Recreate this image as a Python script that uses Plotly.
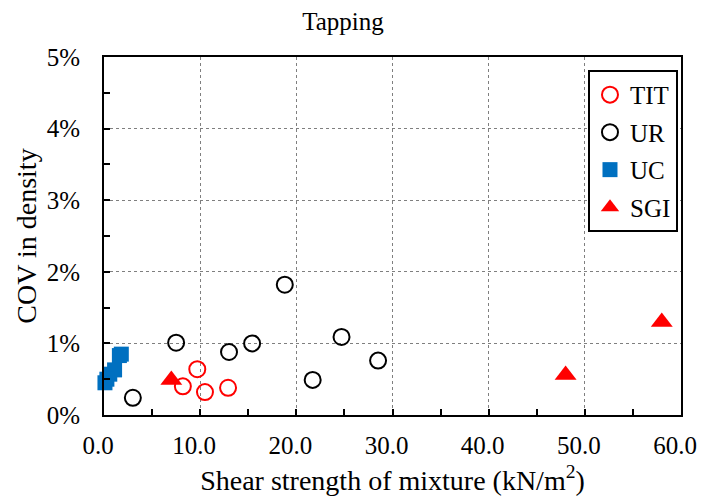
import plotly.graph_objects as go

# Data (x: shear strength kN/m2, y: COV in density, %)
tit_x = [8.2, 9.7, 10.5, 12.9]
tit_y = [0.40, 0.64, 0.32, 0.38]
ur_x = [3.0, 7.5, 13.0, 15.4, 18.8, 21.7, 24.7, 28.5]
ur_y = [0.24, 1.01, 0.88, 1.00, 1.82, 0.49, 1.09, 0.76]
uc_x = [1.8, 1.6, 1.1, 0.6, 0.3, 0.1]
uc_y = [0.85, 0.83, 0.63, 0.57, 0.50, 0.45]
sgi_x = [7.0, 48.0, 58.0]
sgi_y = [0.49, 0.56, 1.30]

x_ticks = [0, 10, 20, 30, 40, 50, 60]
x_tick_labels = ["0.0", "10.0", "20.0", "30.0", "40.0", "50.0", "60.0"]
y_ticks = [0, 1, 2, 3, 4, 5]
y_tick_labels = ["0%", "1%", "2%", "3%", "4%", "5%"]

FONT = "Liberation Serif, Times New Roman, serif"

fig = go.Figure()
fig.add_trace(go.Scatter(x=tit_x, y=tit_y, mode="markers", name="TIT", legendgroup="a",
                         marker=dict(symbol="circle-open", size=16, color="#FF0000",
                                     line=dict(width=2, color="#FF0000")),
                         cliponaxis=False))
fig.add_trace(go.Scatter(x=ur_x, y=ur_y, mode="markers", name="UR", legendgroup="b",
                         marker=dict(symbol="circle-open", size=16, color="#000000",
                                     line=dict(width=2, color="#000000")),
                         cliponaxis=False))
fig.add_trace(go.Scatter(x=uc_x, y=uc_y, mode="markers", name="UC", legendgroup="c",
                         marker=dict(symbol="square", size=15, color="#0070C0"),
                         cliponaxis=False))
fig.add_trace(go.Scatter(x=sgi_x, y=sgi_y, mode="markers", name="SGI", legendgroup="d",
                         marker=dict(symbol="triangle-up", size=19, color="#FF0000"),
                         cliponaxis=False))

H = 488
fig.update_layout(
    width=697, height=H,
    margin=dict(l=96, r=24, t=49, b=81, autoexpand=False),
    paper_bgcolor="white", plot_bgcolor="white",
    font=dict(family=FONT, color="black", size=25),
    title=dict(text="Tapping", x=0.4806, xanchor="center", y=1 - 13 / H, yanchor="middle",
               font=dict(family=FONT, size=25, color="black")),
    showlegend=True,
    legend=dict(x=0.8388, xanchor="left", y=0.964, yanchor="top",
                bordercolor="black", borderwidth=2, bgcolor="white",
                font=dict(family=FONT, size=25, color="black"),
                itemwidth=30, tracegroupgap=2),
)

fig.update_xaxes(
    range=[0, 60], tickvals=x_ticks, ticktext=x_tick_labels, automargin=False,
    showline=True, linecolor="black", linewidth=2, mirror=True,
    ticks="inside", ticklen=6, tickwidth=2, tickcolor="black",
    minor=dict(ticks="inside", ticklen=6, tickwidth=2, tickcolor="black", dtick=5,
               tick0=0, showgrid=False),
    showgrid=True, gridcolor="#7f7f7f", gridwidth=1, griddash="dot",
    zeroline=False, ticklabelstandoff=7, ticklabelshift=-6,
    tickfont=dict(family=FONT, size=25, color="black"),
    title=dict(text="Shear strength of mixture (kN/m<sup>2</sup>)", standoff=12,
               font=dict(family=FONT, size=28, color="black")),
)
fig.update_yaxes(
    range=[0, 5], tickvals=y_ticks, ticktext=y_tick_labels, automargin=False,
    showline=True, linecolor="black", linewidth=2, mirror=True,
    ticks="inside", ticklen=6, tickwidth=2, tickcolor="black",
    minor=dict(ticks="inside", ticklen=6, tickwidth=2, tickcolor="black", dtick=0.5,
               tick0=0, showgrid=False),
    showgrid=True, gridcolor="#7f7f7f", gridwidth=1, griddash="dot",
    zeroline=False, ticklabelstandoff=17,
    tickfont=dict(family=FONT, size=25, color="black"),
    title=dict(text="COV in density", standoff=2,
               font=dict(family=FONT, size=28, color="black")),
)

fig.write_html("out.html")
